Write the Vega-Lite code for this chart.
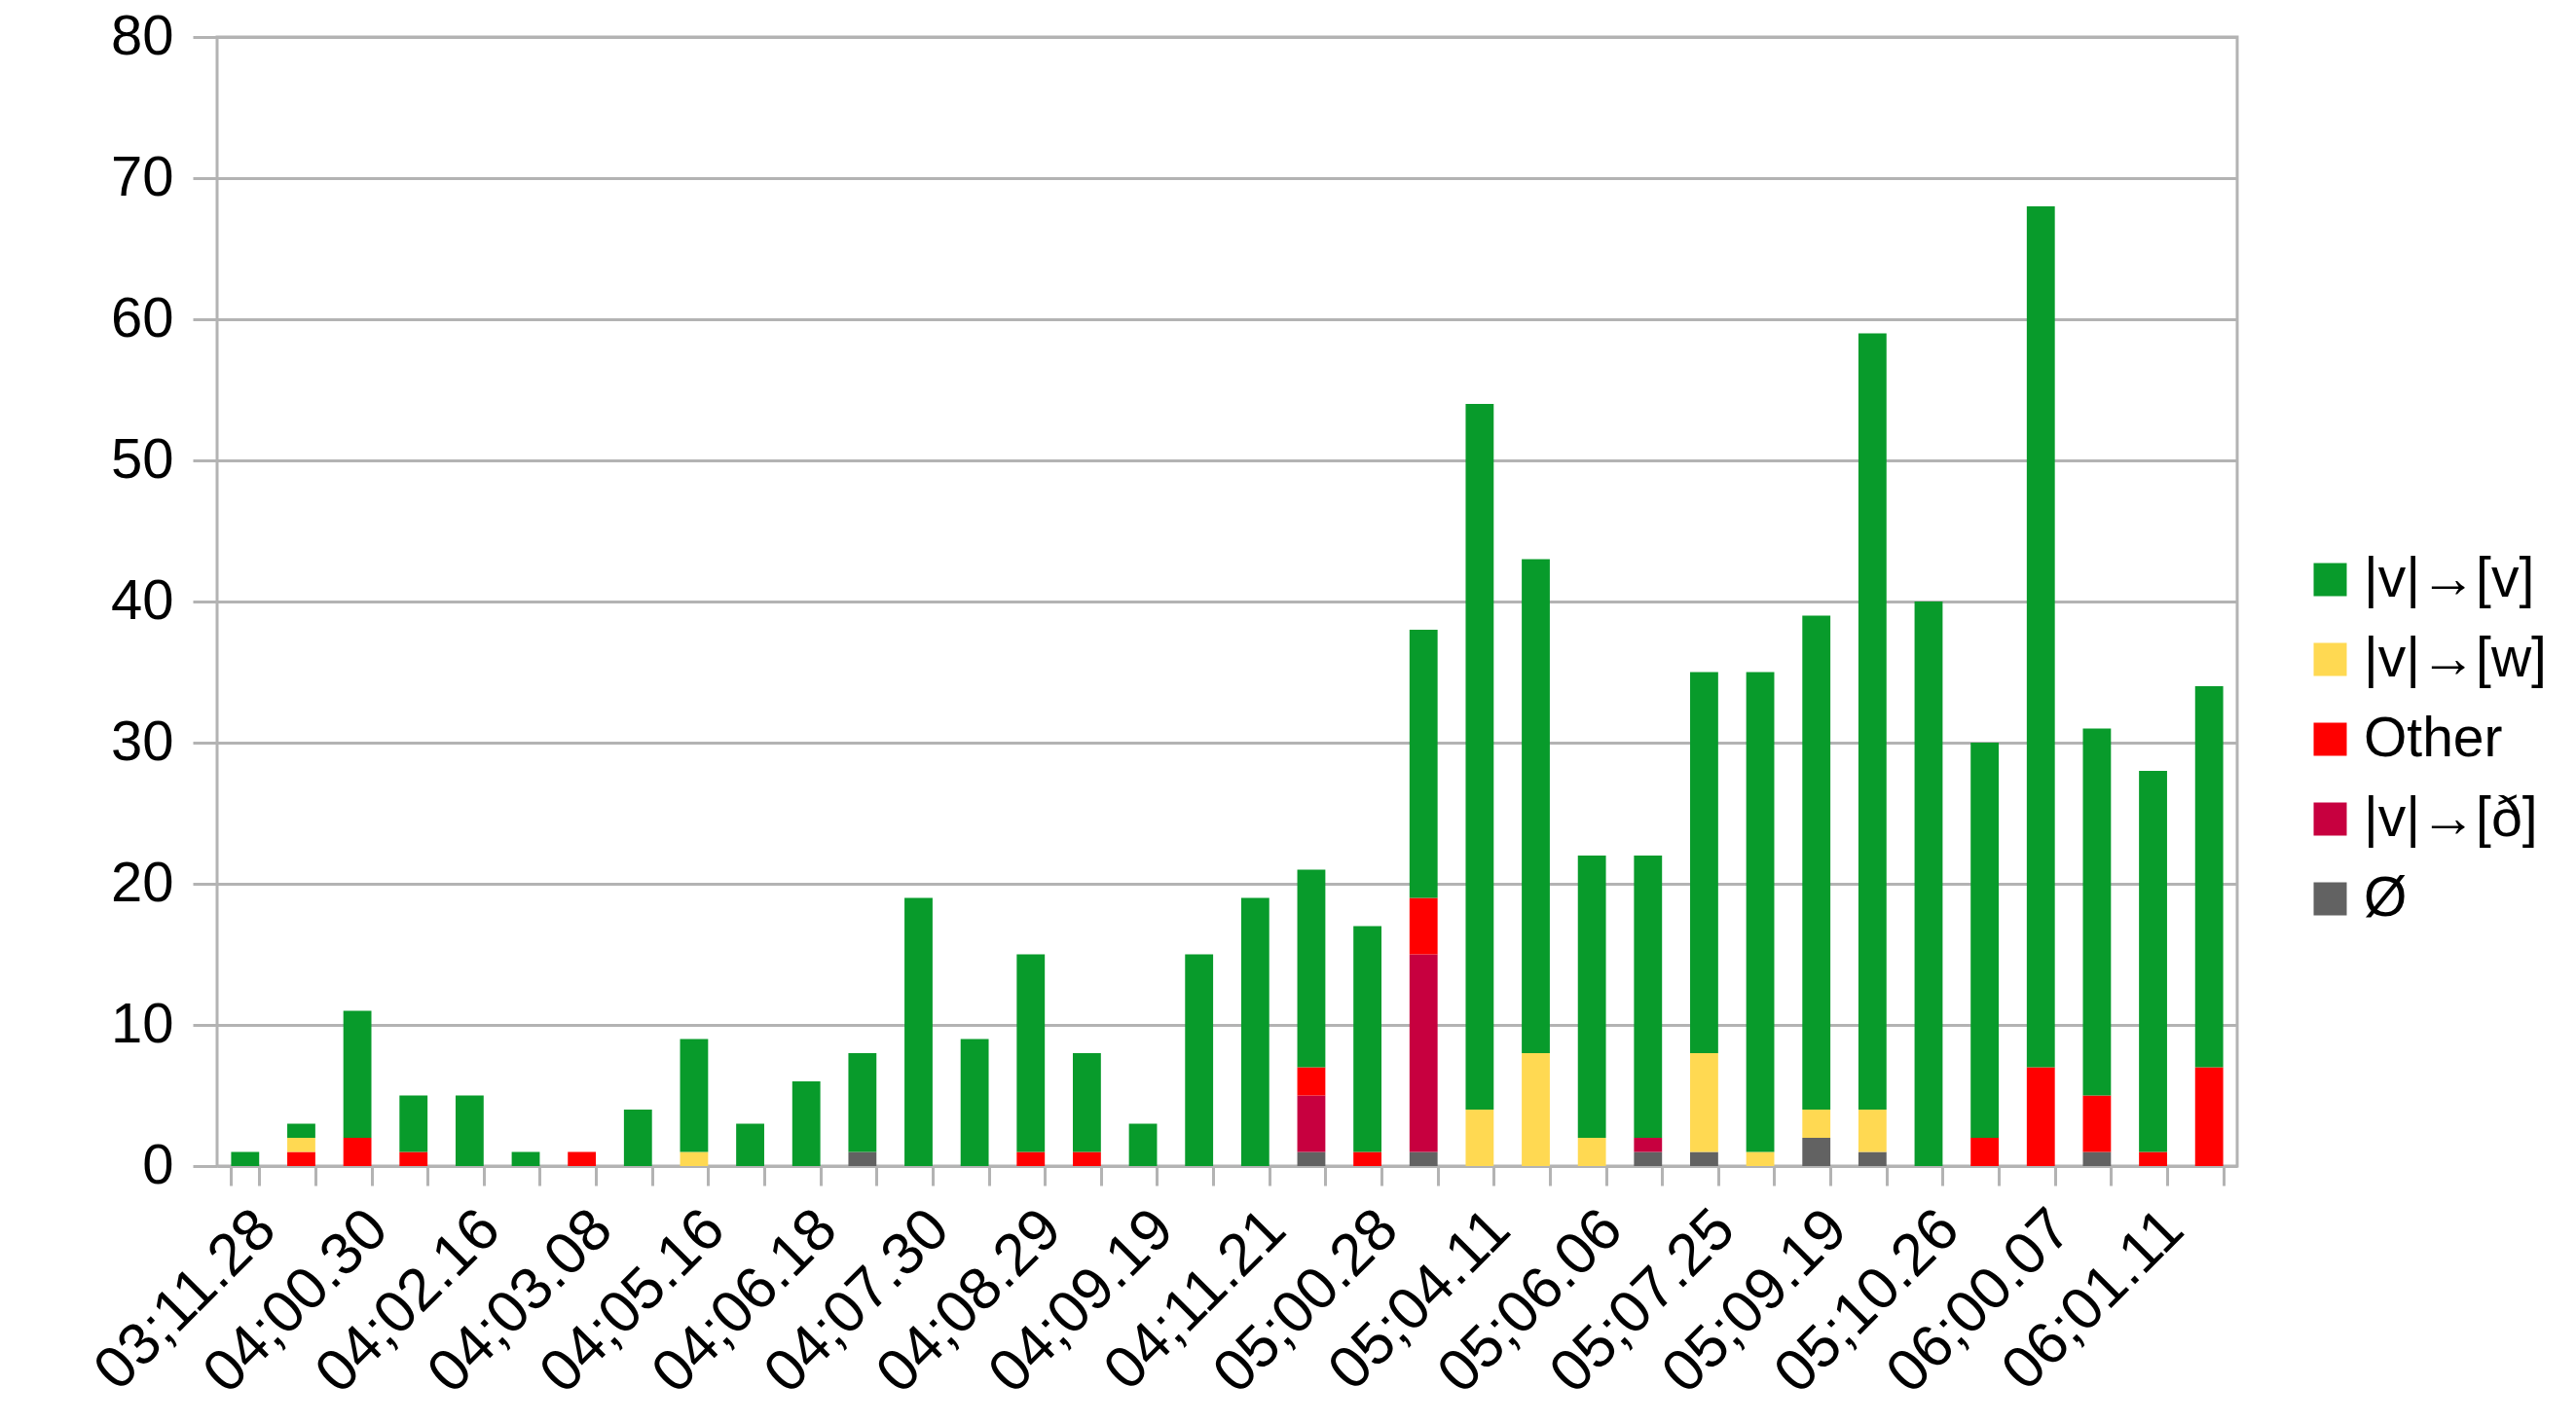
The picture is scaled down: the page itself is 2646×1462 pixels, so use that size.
{
  "$schema": "https://vega.github.io/schema/vega-lite/v6.json",
  "autosize": "none",
  "width": 2075,
  "height": 1160,
  "padding": {"left": 223, "top": 38, "right": 348, "bottom": 264},
  "background": "white",
  "config": {
    "view": {"stroke": "#b3b3b3", "strokeWidth": 3},
    "font": "Liberation Sans"
  },
  "data": {
    "values": [
      {"session": "03;11.28", "category": "|v|→[v]", "count": 1},
      {"session": "(unlabelled 2)", "category": "Other", "count": 1},
      {"session": "(unlabelled 2)", "category": "|v|→[w]", "count": 1},
      {"session": "(unlabelled 2)", "category": "|v|→[v]", "count": 1},
      {"session": "04;00.30", "category": "Other", "count": 2},
      {"session": "04;00.30", "category": "|v|→[v]", "count": 9},
      {"session": "(unlabelled 4)", "category": "Other", "count": 1},
      {"session": "(unlabelled 4)", "category": "|v|→[v]", "count": 4},
      {"session": "04;02.16", "category": "|v|→[v]", "count": 5},
      {"session": "(unlabelled 6)", "category": "|v|→[v]", "count": 1},
      {"session": "04;03.08", "category": "Other", "count": 1},
      {"session": "(unlabelled 8)", "category": "|v|→[v]", "count": 4},
      {"session": "04;05.16", "category": "|v|→[w]", "count": 1},
      {"session": "04;05.16", "category": "|v|→[v]", "count": 8},
      {"session": "(unlabelled 10)", "category": "|v|→[v]", "count": 3},
      {"session": "04;06.18", "category": "|v|→[v]", "count": 6},
      {"session": "(unlabelled 12)", "category": "Ø", "count": 1},
      {"session": "(unlabelled 12)", "category": "|v|→[v]", "count": 7},
      {"session": "04;07.30", "category": "|v|→[v]", "count": 19},
      {"session": "(unlabelled 14)", "category": "|v|→[v]", "count": 9},
      {"session": "04;08.29", "category": "Other", "count": 1},
      {"session": "04;08.29", "category": "|v|→[v]", "count": 14},
      {"session": "(unlabelled 16)", "category": "Other", "count": 1},
      {"session": "(unlabelled 16)", "category": "|v|→[v]", "count": 7},
      {"session": "04;09.19", "category": "|v|→[v]", "count": 3},
      {"session": "(unlabelled 18)", "category": "|v|→[v]", "count": 15},
      {"session": "04;11.21", "category": "|v|→[v]", "count": 19},
      {"session": "(unlabelled 20)", "category": "Ø", "count": 1},
      {"session": "(unlabelled 20)", "category": "|v|→[ð]", "count": 4},
      {"session": "(unlabelled 20)", "category": "Other", "count": 2},
      {"session": "(unlabelled 20)", "category": "|v|→[v]", "count": 14},
      {"session": "05;00.28", "category": "Other", "count": 1},
      {"session": "05;00.28", "category": "|v|→[v]", "count": 16},
      {"session": "(unlabelled 22)", "category": "Ø", "count": 1},
      {"session": "(unlabelled 22)", "category": "|v|→[ð]", "count": 14},
      {"session": "(unlabelled 22)", "category": "Other", "count": 4},
      {"session": "(unlabelled 22)", "category": "|v|→[v]", "count": 19},
      {"session": "05;04.11", "category": "|v|→[w]", "count": 4},
      {"session": "05;04.11", "category": "|v|→[v]", "count": 50},
      {"session": "(unlabelled 24)", "category": "|v|→[w]", "count": 8},
      {"session": "(unlabelled 24)", "category": "|v|→[v]", "count": 35},
      {"session": "05;06.06", "category": "|v|→[w]", "count": 2},
      {"session": "05;06.06", "category": "|v|→[v]", "count": 20},
      {"session": "(unlabelled 26)", "category": "Ø", "count": 1},
      {"session": "(unlabelled 26)", "category": "|v|→[ð]", "count": 1},
      {"session": "(unlabelled 26)", "category": "|v|→[v]", "count": 20},
      {"session": "05;07.25", "category": "Ø", "count": 1},
      {"session": "05;07.25", "category": "|v|→[w]", "count": 7},
      {"session": "05;07.25", "category": "|v|→[v]", "count": 27},
      {"session": "(unlabelled 28)", "category": "|v|→[w]", "count": 1},
      {"session": "(unlabelled 28)", "category": "|v|→[v]", "count": 34},
      {"session": "05;09.19", "category": "Ø", "count": 2},
      {"session": "05;09.19", "category": "|v|→[w]", "count": 2},
      {"session": "05;09.19", "category": "|v|→[v]", "count": 35},
      {"session": "(unlabelled 30)", "category": "Ø", "count": 1},
      {"session": "(unlabelled 30)", "category": "|v|→[w]", "count": 3},
      {"session": "(unlabelled 30)", "category": "|v|→[v]", "count": 55},
      {"session": "05;10.26", "category": "|v|→[v]", "count": 40},
      {"session": "(unlabelled 32)", "category": "Other", "count": 2},
      {"session": "(unlabelled 32)", "category": "|v|→[v]", "count": 28},
      {"session": "06;00.07", "category": "Other", "count": 7},
      {"session": "06;00.07", "category": "|v|→[v]", "count": 61},
      {"session": "(unlabelled 34)", "category": "Ø", "count": 1},
      {"session": "(unlabelled 34)", "category": "Other", "count": 4},
      {"session": "(unlabelled 34)", "category": "|v|→[v]", "count": 26},
      {"session": "06;01.11", "category": "Other", "count": 1},
      {"session": "06;01.11", "category": "|v|→[v]", "count": 27},
      {"session": "(unlabelled 36)", "category": "Other", "count": 7},
      {"session": "(unlabelled 36)", "category": "|v|→[v]", "count": 27}
    ]
  },
  "transform": [
    {"calculate": "indexof(['Ø', '|v|→[ð]', 'Other', '|v|→[w]', '|v|→[v]'], datum.category)", "as": "stackOrder"}
  ],
  "mark": {"type": "bar"},
  "encoding": {
    "x": {
      "field": "session",
      "type": "nominal",
      "sort": null,
      "scale": {"paddingInner": 0.5, "paddingOuter": 0.25},
      "axis": {
        "title": null,
        "labelAngle": -45,
        "labelExpr": "indexof(datum.label, '(unlabelled') === 0 ? '' : datum.label",
        "labelFont": "Liberation Sans",
        "labelFontSize": 61,
        "labelColor": "#000000",
        "labelPadding": 14,
        "labelDx": -8,
        "labelDy": -8,
        "labelLimit": 500,
        "labelOverlap": false,
        "tickBand": "extent",
        "tickColor": "#b3b3b3",
        "tickWidth": 3,
        "tickSize": 20,
        "domain": false,
        "grid": false
      }
    },
    "y": {
      "field": "count",
      "type": "quantitative",
      "aggregate": "sum",
      "stack": "zero",
      "scale": {"domain": [0, 80], "nice": false},
      "axis": {
        "title": null,
        "values": [0, 10, 20, 30, 40, 50, 60, 70, 80],
        "labelFont": "Liberation Sans",
        "labelFontSize": 58,
        "labelColor": "#000000",
        "labelPadding": 20,
        "tickColor": "#b3b3b3",
        "tickWidth": 3,
        "tickSize": 25,
        "domain": false,
        "grid": true,
        "gridColor": "#b3b3b3",
        "gridWidth": 3
      }
    },
    "order": {"field": "stackOrder", "type": "quantitative", "sort": "ascending"},
    "color": {
      "field": "category",
      "type": "nominal",
      "scale": {
        "domain": ["Ø", "|v|→[ð]", "Other", "|v|→[w]", "|v|→[v]"],
        "range": ["#626262", "#c7003f", "#ff0000", "#ffd952", "#089b2b"]
      },
      "legend": {
        "title": null,
        "values": ["|v|→[v]", "|v|→[w]", "Other", "|v|→[ð]", "Ø"],
        "orient": "none",
        "legendX": 2142,
        "legendY": 529,
        "padding": 0,
        "symbolType": "square",
        "symbolSize": 1156,
        "symbolStrokeWidth": 0,
        "symbolOpacity": 1,
        "labelFont": "Liberation Sans",
        "labelFontSize": 57,
        "labelColor": "#000000",
        "labelOffset": 6,
        "rowPadding": 24,
        "labelLimit": 400
      }
    }
  }
}
